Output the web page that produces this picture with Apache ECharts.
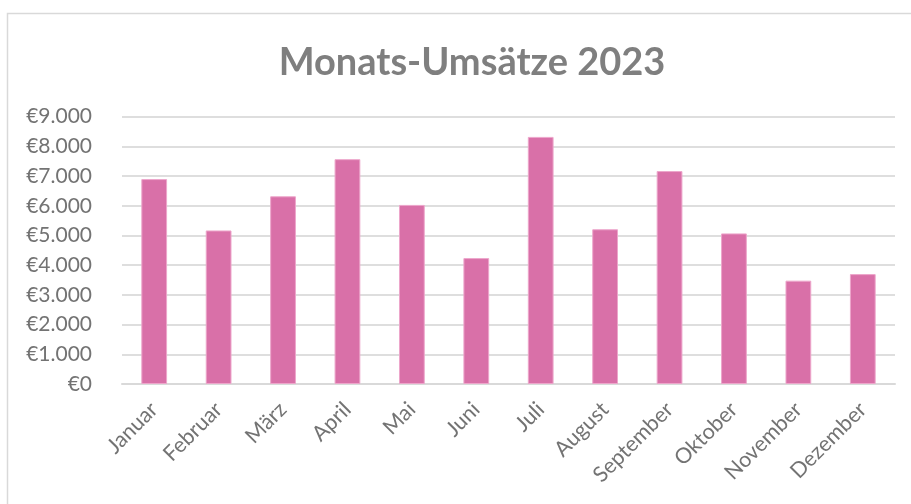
<!DOCTYPE html>
<html>
<head>
<meta charset="utf-8">
<script src="https://cdn.jsdelivr.net/npm/echarts@6/dist/echarts.min.js"></script>
<style>html,body{margin:0;padding:0;background:#fff;}#c{width:911px;height:504px;}</style>
</head>
<body>
<div id="c"></div>
<script>
const categories = ['Januar','Februar','März','April','Mai','Juni','Juli','August','September','Oktober','November','Dezember'];
const umsatz = [6900, 5170, 6320, 7570, 6030, 4240, 8320, 5210, 7170, 5070, 3480, 3700];
const yTicks = [0, 1000, 2000, 3000, 4000, 5000, 6000, 7000, 8000, 9000];

function fmtEuro(v) {
  return '€' + String(v).replace(/\B(?=(\d{3})+(?!\d))/g, '.');
}

const chart = echarts.init(document.getElementById('c'), null, {renderer: 'canvas'});
chart.setOption({
  animation: false,
  backgroundColor: '#fff',
  graphic: [{
    type: 'rect', left: 5, top: 11, silent: true,
    shape: {x: 0, y: 0, width: 940, height: 540},
    style: {fill: 'none', stroke: '#D9D9D9', lineWidth: 1.5}
  }],
  title: {
    text: 'Monats-Umsätze 2023',
    left: 467, top: 39, textAlign: 'center',
    textStyle: {fontFamily: 'Lato', fontWeight: 'bold', fontSize: 38, color: '#7F7F7F'}
  },
  grid: {left: 122, right: 16, top: 116.7, bottom: 120, containLabel: false},
  xAxis: {
    type: 'category',
    data: categories,
    axisLine: {show: true, lineStyle: {color: '#D9D9D9', width: 2}},
    axisTick: {show: false},
    axisLabel: {rotate: 45, margin: 22, fontFamily: 'Lato', fontSize: 21.5, color: '#737373', interval: 0}
  },
  yAxis: {
    type: 'value',
    min: yTicks[0], max: yTicks[yTicks.length - 1], interval: 1000,
    axisLine: {show: false},
    axisTick: {show: false},
    splitLine: {lineStyle: {color: '#DEDEDE', width: 2}},
    axisLabel: {formatter: fmtEuro, margin: 30, fontFamily: 'Lato', fontSize: 21, color: '#737373'}
  },
  series: [{
    type: 'bar',
    data: umsatz,
    barWidth: '40%',
    itemStyle: {color: '#D970A8', borderColor: '#EDA6CB', borderWidth: 1}
  }]
});
</script>
</body>
</html>
